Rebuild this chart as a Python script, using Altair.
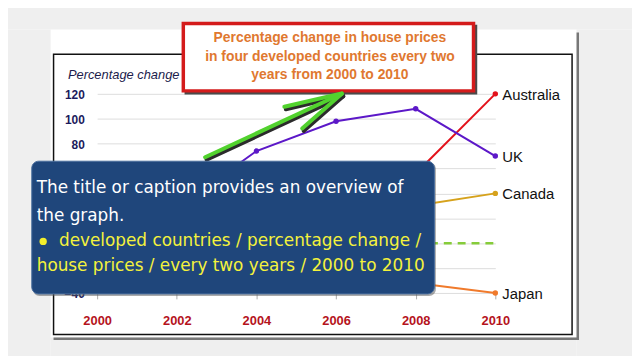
import altair as alt
import pandas as pd

# ---------------- data ----------------
years = [2000, 2002, 2004, 2006, 2008, 2010]
australia = [10, 18, 28, 40, 56, 120]
uk = [12, 28, 74, 98, 108, 70]
canada = [5, 10, 16, 22, 30, 40]
japan = [-5, -15, -20, -26, -32, -40]
series = ["Australia", "UK", "Canada", "Japan"]
colors = ["#e3121b", "#5c18c8", "#d6a21c", "#f07a2c"]
y_ticks = [-40, -20, 0, 20, 40, 60, 80, 100, 120]
y_title = "Percentage change"
title_lines = [
    "Percentage change in house prices",
    "in four developed countries every two",
    "years from 2000 to 2010",
]
caption_white = ["The title or caption provides an overview of", "the graph."]
caption_yellow = [
    "developed countries / percentage change /",
    "house prices / every two years / 2000 to 2010",
]

values = {"Australia": australia, "UK": uk, "Canada": canada, "Japan": japan}
rows = []
for s in series:
    for yr, v in zip(years, values[s]):
        rows.append({"year": yr, "value": v, "series": s})
df = pd.DataFrame(rows)
df_last = df[df["year"] == years[-1]]
df_zero = pd.DataFrame({"year": [years[0]], "year_end": [years[-1]], "value": [0]})
one = pd.DataFrame({"k": [0]})

# ---------------- helpers for decorations (page pixel coords) ----------------
OX, OY = 98, 93


def px(v):
    return alt.value(v - OX)


def py(v):
    return alt.value(v - OY)


def box(x1, y1, x2, y2, **kw):
    return alt.Chart(one).mark_rect(**kw).encode(
        x=px(x1), x2=px(x2), y=py(y1), y2=py(y2)
    )


def seg(x1, y1, x2, y2, **kw):
    return alt.Chart(one).mark_rule(**kw).encode(
        x=px(x1), y=py(y1), x2=px(x2), y2=py(y2)
    )


def txt(x, y, s, **kw):
    return alt.Chart(one).mark_text(**kw).encode(x=px(x), y=py(y), text=alt.value(s))


xscale = alt.Scale(domain=[2000, 2010], nice=False, zero=False)
yscale = alt.Scale(domain=[-40, 120], nice=False, zero=False)
color_scale = alt.Scale(domain=series, range=colors)

x_axis = alt.Axis(
    values=years,
    format="d",
    grid=False,
    domain=False,
    ticks=True,
    tickColor="#aaaaaa",
    tickSize=6,
    labelFont="Liberation Sans",
    labelFontSize=13,
    labelFontWeight="bold",
    labelColor="#b5131c",
    labelPadding=16,
    labelFlush=False,
    title=None,
    zindex=0,
)
y_axis = alt.Axis(
    values=y_ticks,
    grid=True,
    gridColor="#dddddd",
    domain=False,
    ticks=False,
    labelFont="Liberation Sans",
    labelFontSize=12,
    labelFontWeight="bold",
    labelColor="#1b1b5c",
    labelPadding=13,
    labelFlush=False,
    labelOffset=1,
    title=y_title,
    titleAngle=0,
    titleX=-30,
    titleY=-19,
    titleAlign="left",
    titleBaseline="middle",
    titleFont="Liberation Sans",
    titleFontSize=13,
    titleFontStyle="italic",
    titleFontWeight="normal",
    titleColor="#1c1c4c",
    zindex=0,
)

X = alt.X("year:Q", scale=xscale, axis=x_axis)
Y = alt.Y("value:Q", scale=yscale, axis=y_axis)

GRAY = "#efefef"
bg = [
    box(0, 0, 640, 28, color=GRAY),
    box(0, 28, 51, 360, color=GRAY),
    box(582, 28, 640, 360, color=GRAY),
    box(51, 339, 582, 360, color=GRAY),
    box(582, 31, 584.5, 341.5, color="#777777"),
    box(54, 339, 584.5, 341.5, color="#777777"),
    box(54, 53, 577.5, 336, filled=False, stroke="#111111", strokeWidth=1.5),
]

zero = alt.Chart(df_zero).mark_rule(
    color="#86cc3a", strokeWidth=2.5, strokeDash=[8, 6]
).encode(x=X, x2="year_end:Q", y=Y)

lines = alt.Chart(df).mark_line(strokeWidth=2).encode(
    x=X,
    y=Y,
    color=alt.Color("series:N", scale=color_scale, legend=None),
    detail="series:N",
)

points = alt.Chart(df).mark_circle(size=30, opacity=1).encode(
    x=X,
    y=Y,
    color=alt.Color("series:N", scale=color_scale, legend=None),
)

labels = alt.Chart(df_last).mark_text(
    align="left", dx=7, dy=1, fontSize=15, font="Liberation Sans", color="#111111"
).encode(x=X, y=Y, text="series:N")

title_box = [
    box(187.5, 24.5, 480.5, 92.5, filled=False, stroke="#4a4a4a", strokeWidth=2.5),
    box(185, 22, 478, 90, color="#ffffff", stroke="#d41b1b", strokeWidth=3.5),
]
for s, yy in zip(title_lines, [37, 56, 74]):
    title_box.append(
        txt(333, yy, s, font="Liberation Sans", fontSize=14, fontWeight="bold",
            color="#e07830", align="center", baseline="middle")
    )

arrow = []
for dx, dy, col in [(1.5, 2.5, "#2b2b2b"), (0, 0, "#52d22e")]:
    kw = dict(color=col, strokeWidth=4, strokeCap="round")
    arrow += [
        seg(207 + dx, 157 + dy, 335 + dx, 97.5 + dy, **kw),
        seg(335 + dx, 97.5 + dy, 345 + dx, 93 + dy, **kw),
        seg(287 + dx, 106 + dy, 345 + dx, 92.5 + dy, **kw),
        seg(305 + dx, 128 + dy, 345 + dx, 93 + dy, **kw),
    ]

CF = "DejaVu Sans"
CS = 17
caption = [
    box(33, 162, 440, 297, color="#555555", cornerRadius=7, opacity=0.5),
    box(32, 161, 438.5, 295, color="#1f467b", stroke="#4a6e9e", strokeWidth=1,
        cornerRadius=7),
    txt(37, 188, caption_white[0], font=CF, fontSize=CS,
        color="#ffffff", align="left", baseline="middle"),
    txt(37, 216.5, caption_white[1], font=CF, fontSize=CS,
        color="#ffffff", align="left", baseline="middle"),
    alt.Chart(one).mark_circle(size=55, color="#f2ee2c", opacity=1).encode(
        x=px(43.5), y=py(242)
    ),
    txt(59.5, 242, caption_yellow[0], font=CF, fontSize=CS,
        color="#f4f23c", align="left", baseline="middle"),
    txt(37, 267, caption_yellow[1], font=CF, fontSize=CS,
        color="#f4f23c", align="left", baseline="middle"),
]

chart = alt.layer(
    *bg, zero, lines, points, labels, *title_box, *arrow, *caption
).properties(
    width=402,
    height=201,
    autosize=alt.AutoSizeParams(type="none"),
    padding={"left": 90, "top": 85, "right": 138, "bottom": 62},
    background="#ffffff",
).configure_view(stroke=None)

chart.save("out.html", embed_options={"renderer": "svg", "actions": False})
